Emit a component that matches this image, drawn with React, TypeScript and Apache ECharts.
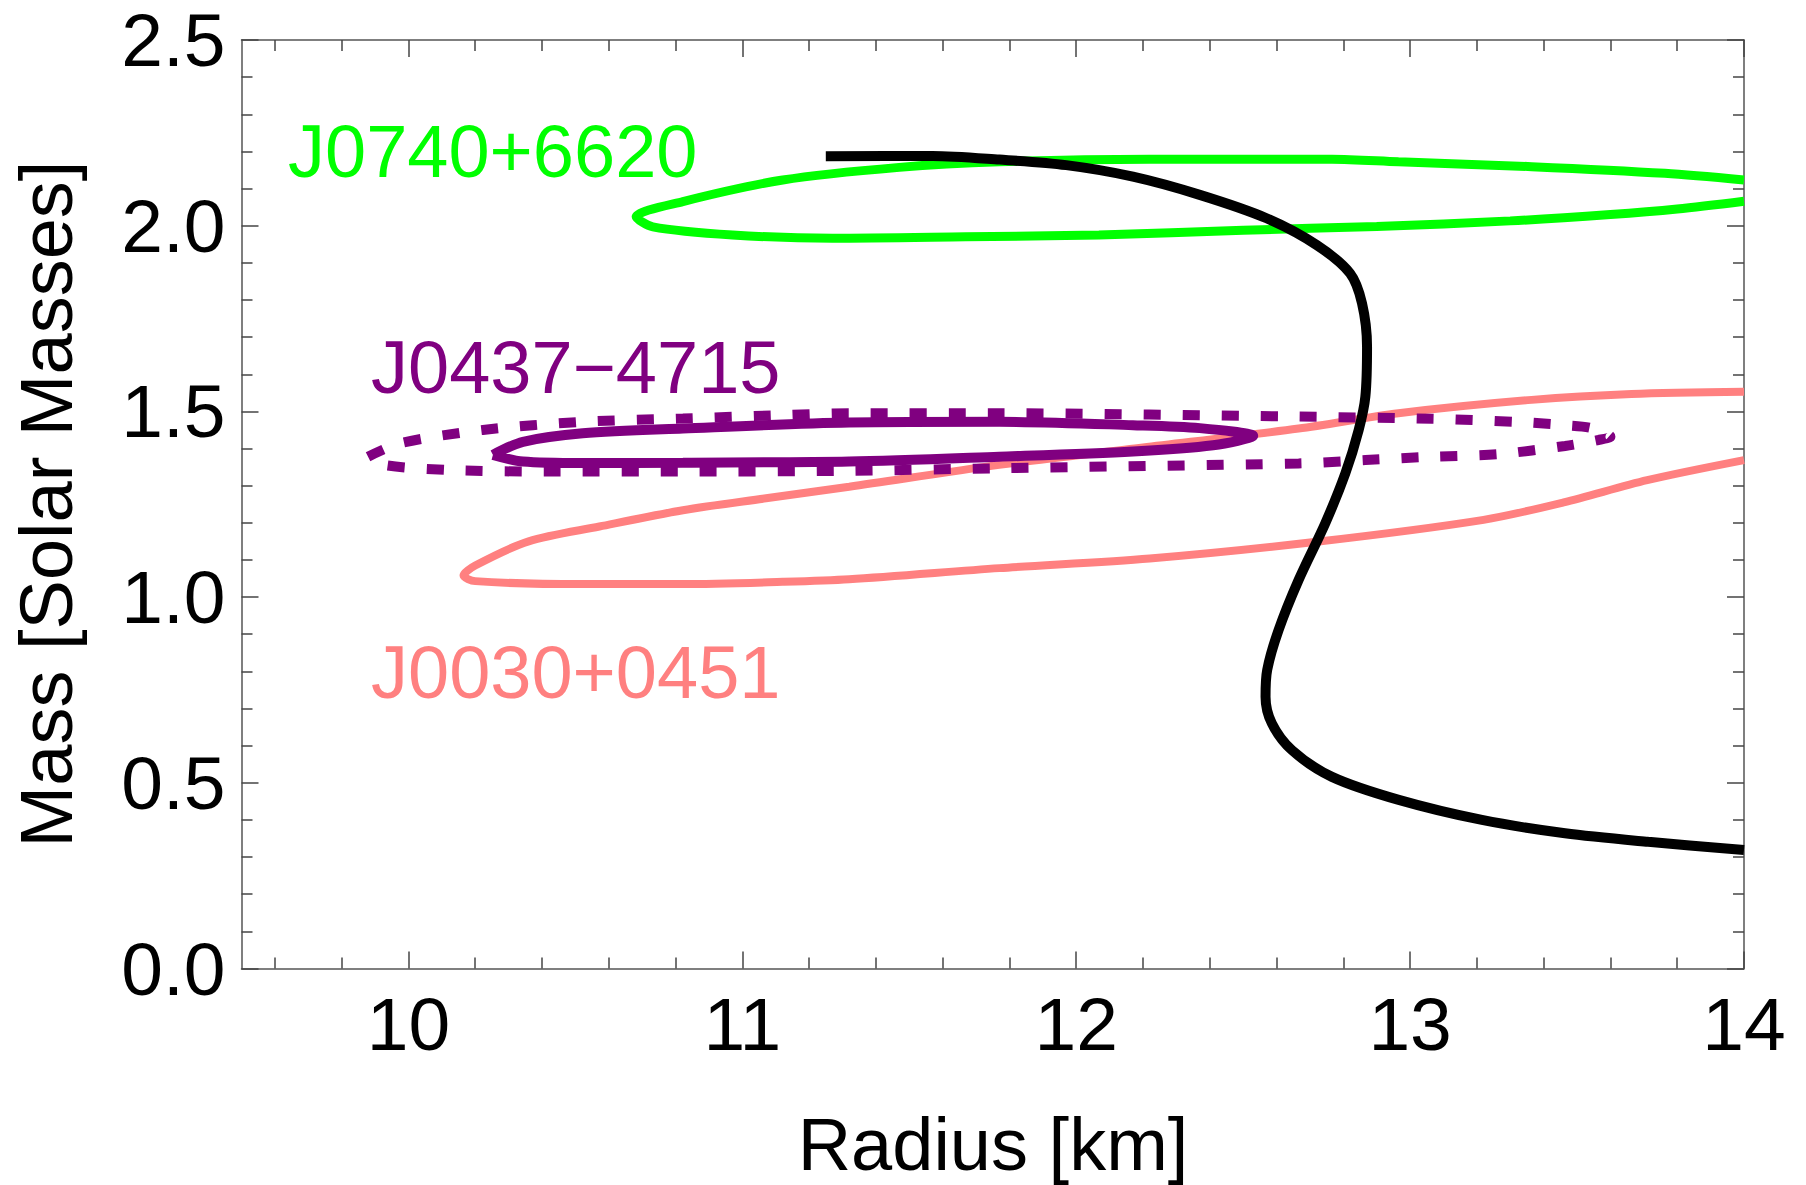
import React, { useEffect, useRef } from "react";
import * as echarts from "echarts";

// ---------- data (Radius [km], Mass [Solar Masses]) ----------
const eosRadius = [11.25, 11.57, 11.77, 11.97, 12.17, 12.37, 12.57, 12.72, 12.82, 12.856, 12.871, 12.866, 12.846, 12.806, 12.746, 12.666, 12.606, 12.572, 12.567, 12.586, 12.646, 12.766, 12.966, 13.215, 13.464, 13.713, 14.0];
const eosMass = [2.187, 2.188, 2.178, 2.163, 2.132, 2.083, 2.02, 1.948, 1.872, 1.791, 1.674, 1.54, 1.45, 1.333, 1.199, 1.046, 0.911, 0.804, 0.732, 0.66, 0.588, 0.516, 0.454, 0.4, 0.364, 0.341, 0.319];

const j0740Radius = [14.0, 13.763, 13.364, 12.965, 12.766, 12.218, 11.769, 11.47, 11.121, 10.822, 10.682, 10.732, 10.971, 11.27, 11.669, 12.068, 12.5, 12.9, 13.3, 13.6, 13.8, 14.0];
const j0740Mass = [2.123, 2.141, 2.159, 2.172, 2.179, 2.179, 2.172, 2.157, 2.123, 2.065, 2.024, 1.997, 1.975, 1.966, 1.97, 1.975, 1.988, 1.998, 2.013, 2.03, 2.045, 2.066];

const j0030Radius = [14.0, 13.663, 13.364, 12.965, 12.666, 12.2, 11.769, 11.32, 11.071, 10.822, 10.572, 10.36, 10.2, 10.165, 10.2, 10.522, 10.822, 11.121, 11.32, 11.77, 12.22, 12.72, 13.22, 13.46, 13.71, 14.0];
const j0030Mass = [1.553, 1.547, 1.531, 1.495, 1.454, 1.403, 1.356, 1.297, 1.266, 1.234, 1.19, 1.15, 1.085, 1.058, 1.043, 1.035, 1.035, 1.041, 1.048, 1.078, 1.104, 1.149, 1.208, 1.255, 1.315, 1.369];

const j0437Radius = [10.253, 10.343, 10.522, 10.822, 11.32, 11.769, 12.17, 12.37, 12.53, 12.41, 12.17, 11.769, 11.32, 10.822, 10.522, 10.343, 10.253];
const j0437Mass = [1.383, 1.418, 1.441, 1.454, 1.47, 1.472, 1.463, 1.455, 1.434, 1.409, 1.392, 1.378, 1.365, 1.362, 1.361, 1.365, 1.383];

const j0437WideRadius = [9.879, 9.974, 10.223, 10.522, 10.822, 11.121, 11.32, 11.769, 12.666, 13.065, 13.315, 13.464, 13.544, 13.6, 13.564, 13.464, 13.265, 13.065, 12.866, 12.666, 11.769, 11.32, 10.822, 10.423, 10.124, 9.924, 9.879];
const j0437WideMass = [1.378, 1.414, 1.45, 1.472, 1.481, 1.49, 1.495, 1.495, 1.486, 1.48, 1.472, 1.463, 1.455, 1.432, 1.423, 1.407, 1.385, 1.378, 1.369, 1.36, 1.347, 1.34, 1.338, 1.338, 1.342, 1.356, 1.378];

const xMajorTicks = [10, 11, 12, 13, 14];
const xMinorTicks = [9.6, 9.8, 10.2, 10.4, 10.6, 10.8, 11.2, 11.4, 11.6, 11.8, 12.2, 12.4, 12.6, 12.8, 13.2, 13.4, 13.6, 13.8];

const labelTexts = ["J0740+6620", "J0437\u22124715", "J0030+0451"];

const FONT = '"Liberation Sans", Arial, Helvetica, sans-serif';
const FRAME = "#555555";

const zip = (xs: number[], ys: number[]) => xs.map((x, i) => [x, ys[i]]);

export default function App() {
  const ref = useRef<HTMLDivElement>(null);

  useEffect(() => {
    if (!ref.current) return;
    const chart = echarts.init(ref.current, null, { renderer: "svg" });

    const tickLine = { color: "#444444", width: 1.5 };
    const xBase = { type: "value", min: 9.5, max: 14, splitLine: { show: false }, minorSplitLine: { show: false } };

    const option: any = {
      animation: false,
      backgroundColor: "#ffffff",
      grid: { left: 241.5, right: 62, top: 40, bottom: 216.5, containLabel: false },
      xAxis: [
        {
          ...xBase,
          position: "bottom",
          axisLine: { show: true, lineStyle: { color: FRAME, width: 1.5 } },
          axisTick: { show: true, inside: true, length: 17, customValues: xMajorTicks, lineStyle: tickLine },
          axisLabel: {
            show: true,
            customValues: xMajorTicks,
            margin: 22,
            fontSize: 75,
            lineHeight: 66,
            fontFamily: FONT,
            color: "#000",
            formatter: (v: number) => String(v),
          },
        },
        {
          ...xBase,
          position: "bottom",
          axisLine: { show: false },
          axisTick: { show: true, inside: true, length: 11, customValues: xMinorTicks, lineStyle: tickLine },
          axisLabel: { show: false },
        },
        {
          ...xBase,
          position: "top",
          axisLine: { show: true, lineStyle: { color: FRAME, width: 1.5 } },
          axisTick: { show: true, inside: true, length: 17, customValues: xMajorTicks, lineStyle: tickLine },
          axisLabel: { show: false },
        },
        {
          ...xBase,
          position: "top",
          axisLine: { show: false },
          axisTick: { show: true, inside: true, length: 11, customValues: xMinorTicks, lineStyle: tickLine },
          axisLabel: { show: false },
        },
      ],
      yAxis: [
        {
          type: "value",
          min: 0,
          max: 2.5,
          interval: 0.5,
          position: "left",
          splitLine: { show: false },
          minorSplitLine: { show: false },
          axisLine: { show: true, lineStyle: { color: FRAME, width: 1.5 } },
          axisTick: { show: true, inside: true, length: 17, lineStyle: tickLine },
          minorTick: { show: true, splitNumber: 5, length: 11, lineStyle: tickLine },
          axisLabel: {
            show: true,
            margin: 16,
            fontSize: 75,
            lineHeight: 66,
            fontFamily: FONT,
            color: "#000",
            formatter: (v: number) => v.toFixed(1),
          },
        },
        {
          type: "value",
          min: 0,
          max: 2.5,
          interval: 0.5,
          position: "right",
          splitLine: { show: false },
          minorSplitLine: { show: false },
          axisLine: { show: true, lineStyle: { color: FRAME, width: 1.5 } },
          axisTick: { show: true, inside: true, length: 17, lineStyle: tickLine },
          minorTick: { show: true, splitNumber: 5, length: 11, lineStyle: tickLine },
          axisLabel: { show: false },
        },
      ],
      series: [
        {
          name: "J0030+0451",
          type: "line",
          data: zip(j0030Radius, j0030Mass),
          showSymbol: false,
          smooth: 0.3,
          lineStyle: { color: "#ff8080", width: 8, cap: "butt" },
          z: 2,
        },
        {
          name: "J0740+6620",
          type: "line",
          data: zip(j0740Radius, j0740Mass),
          showSymbol: false,
          smooth: 0.3,
          lineStyle: { color: "#00ff00", width: 9, cap: "butt" },
          z: 3,
        },
        {
          name: "J0437-4715 wide",
          type: "line",
          data: zip(j0437WideRadius, j0437WideMass),
          showSymbol: false,
          smooth: 0.3,
          lineStyle: { color: "#800080", width: 10, type: [17, 22], cap: "butt" },
          z: 4,
        },
        {
          name: "J0437-4715",
          type: "line",
          data: zip(j0437Radius, j0437Mass),
          showSymbol: false,
          smooth: 0.3,
          lineStyle: { color: "#800080", width: 10, cap: "butt" },
          z: 5,
        },
        {
          name: "EOS",
          type: "line",
          data: zip(eosRadius, eosMass),
          showSymbol: false,
          smooth: 0.3,
          lineStyle: { color: "#000000", width: 10, cap: "butt" },
          z: 6,
        },
      ],
      graphic: [
        {
          type: "text",
          x: 288,
          y: 151,
          style: { text: labelTexts[0], fontSize: 74, fontFamily: FONT, fill: "#00ff00", align: "left", verticalAlign: "middle" },
        },
        {
          type: "text",
          x: 371,
          y: 367,
          style: { text: labelTexts[1], fontSize: 74, fontFamily: FONT, fill: "#800080", align: "left", verticalAlign: "middle" },
        },
        {
          type: "text",
          x: 371,
          y: 672,
          style: { text: labelTexts[2], fontSize: 74, fontFamily: FONT, fill: "#ff8080", align: "left", verticalAlign: "middle" },
        },
        {
          type: "text",
          x: 993,
          y: 1144,
          style: { text: "Radius [km]", fontSize: 74, fontFamily: FONT, fill: "#000", align: "center", verticalAlign: "middle" },
        },
        {
          type: "text",
          x: 46,
          y: 504,
          rotation: Math.PI / 2,
          style: { text: "Mass [Solar Masses]", fontSize: 74, fontFamily: FONT, fill: "#000", align: "center", verticalAlign: "middle" },
        },
      ],
    };

    chart.setOption(option);
    return () => chart.dispose();
  }, []);

  return (
    <div
      ref={ref}
      style={{ position: "fixed", left: 0, top: 0, width: 1806, height: 1185, background: "#fff" }}
    />
  );
}
